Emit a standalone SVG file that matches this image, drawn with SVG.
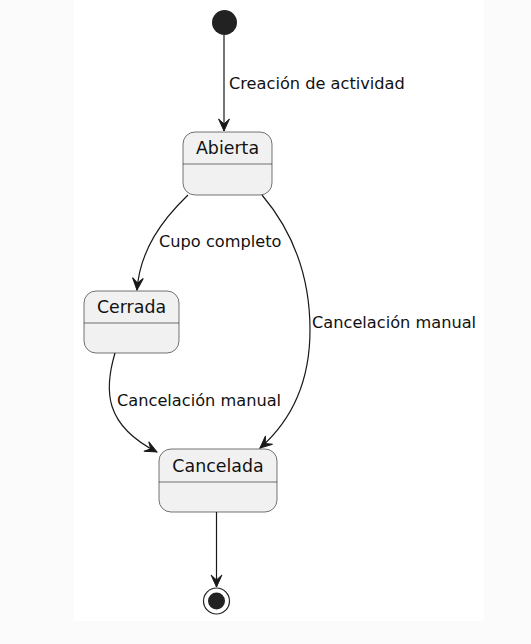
<svg xmlns="http://www.w3.org/2000/svg" width="531" height="644" viewBox="0 0 531 644">
<defs>
<style>
.bg{fill:#fbfbfb}
.st rect{fill:#f1f1f1;stroke:#181818;stroke-width:0.6}
.st line{stroke:#181818;stroke-width:0.6}
.name{font-family:"DejaVu Sans",sans-serif;font-size:17.4px;fill:#111;text-anchor:middle}
.lbl{font-family:"DejaVu Sans",sans-serif;font-size:16.2px;fill:#111}
.edge{fill:none;stroke:#181818;stroke-width:1.2}
</style>
<marker id="arr" markerUnits="userSpaceOnUse" viewBox="-14 -7 16 14" refX="0" refY="0" markerWidth="16" markerHeight="14" orient="auto">
<path d="M0,0 L-12,-5.4 L-7,0 L-12,5.4 Z" fill="#181818" stroke="#181818" stroke-width="1"/>
</marker>
</defs>
<rect class="bg" x="0" y="0" width="531" height="644"/>
<rect x="74" y="0" width="410" height="621" fill="#ffffff"/>

<g id="connectors">
<path class="edge" d="M224,35 L224,131" marker-end="url(#arr)"/>
<text class="lbl" x="229" y="89">Creación de actividad</text>
<path class="edge" d="M188,195 C162,220 140,250 137,290" marker-end="url(#arr)"/>
<text class="lbl" x="159" y="247">Cupo completo</text>
<path class="edge" d="M262,195 C300,240 310,290 310,330 C310,380 292,420 260,448" marker-end="url(#arr)"/>
<text class="lbl" x="312" y="328">Cancelación manual</text>
<path class="edge" d="M115,353 C104,390 104,425 157,452" marker-end="url(#arr)"/>
<text class="lbl" x="117" y="406">Cancelación manual</text>
<path class="edge" d="M216.5,512 L216.5,587" marker-end="url(#arr)"/>
</g>

<g id="start">
<circle cx="224.5" cy="22.5" r="12.5" fill="#222222"/>
</g>

<g id="abierta" class="st">
<rect x="183" y="132" width="89" height="63" rx="12" ry="12"/>
<line x1="183" y1="164" x2="272" y2="164"/>
<text class="name" x="227.5" y="154">Abierta</text>
</g>

<g id="cerrada" class="st">
<rect x="84" y="291" width="95" height="62" rx="12" ry="12"/>
<line x1="84" y1="323" x2="179" y2="323"/>
<text class="name" x="131.5" y="313">Cerrada</text>
</g>

<g id="cancelada" class="st">
<rect x="159" y="449" width="118" height="63" rx="12" ry="12"/>
<line x1="159" y1="482" x2="277" y2="482"/>
<text class="name" x="218" y="472">Cancelada</text>
</g>

<g id="end">
<circle cx="216.5" cy="601" r="13" fill="#ffffff" stroke="#222222" stroke-width="1.2"/>
<circle cx="216.5" cy="601" r="8.5" fill="#222222"/>
</g>
</svg>
